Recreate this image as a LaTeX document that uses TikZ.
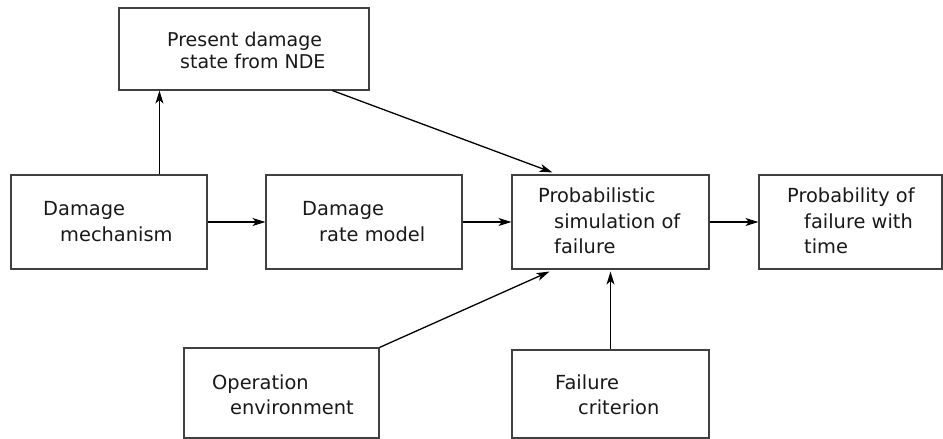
\documentclass[tikz,border=0pt]{standalone}
\usepackage{fontspec}
\setmainfont{DejaVu Sans}
\usetikzlibrary{arrows.meta}
\begin{document}
\begin{tikzpicture}[x=1pt,y=-1pt,
  box/.style={draw=black!75, line width=1.1pt, rectangle, inner sep=0pt},
  txt/.style={anchor=base west, inner sep=0pt, font=\fontsize{19.4}{23}\selectfont, text=black!90},
  txtsmall/.style={txt, font=\fontsize{19}{22}\selectfont},
  arr/.style={line width=1.3pt, -{Stealth[length=13pt,width=8pt,inset=3.5pt]}}]
\useasboundingbox (0,0) rectangle (943,439);
\fill[white] (0,0) rectangle (943,439);
% boxes
\node[box, minimum width=250pt, minimum height=82pt] (pres) at (244,49) {};
\node[box, minimum width=196pt, minimum height=94pt] (mech) at (109,222) {};
\node[box, minimum width=196pt, minimum height=94pt] (rate) at (364,222) {};
\node[box, minimum width=197pt, minimum height=94pt] (sim) at (610.5,222) {};
\node[box, minimum width=183pt, minimum height=94pt] (prob) at (850.5,222) {};
\node[box, minimum width=195pt, minimum height=90pt] (oper) at (281.5,393) {};
\node[box, minimum width=197pt, minimum height=88pt] (crit) at (610.5,394) {};
% texts
\node[txtsmall] (pres1) at (167,46) {Present damage};
\node[txtsmall] (pres2) at (180,68) {state from NDE};
\node[txt] (mech1) at (43,215) {Damage};
\node[txt] (mech2) at (60,241) {mechanism};
\node[txt] (rate1) at (302,215) {Damage};
\node[txt] (rate2) at (319,241) {rate model};
\node[txt] (sim1) at (538,202) {Probabilistic};
\node[txt] (sim2) at (554,228) {simulation of};
\node[txt] (sim3) at (554,253) {failure};
\node[txt] (prob1) at (787,202) {Probability of};
\node[txt] (prob2) at (804,228) {failure with};
\node[txt] (prob3) at (804,253) {time};
\node[txt] (oper1) at (212,389) {Operation};
\node[txt] (oper2) at (230,414) {environment};
\node[txt] (crit1) at (555,389) {Failure};
\node[txt] (crit2) at (578,414) {criterion};
% connectors
\draw[arr] ([xshift=149pt]mech.north west) -- ([xshift=41pt]pres.south west);
\draw[arr] ([xshift=214pt]pres.south west) -- ([xshift=41pt,yshift=2pt]sim.north west);
\draw[arr] (mech.east) -- (rate.west);
\draw[arr] (rate.east) -- (sim.west);
\draw[arr] (sim.east) -- (prob.west);
\draw[arr] (oper.north east) -- ([xshift=38pt,yshift=-2pt]sim.south west);
\draw[arr] (crit.north) -- ([yshift=-2pt]sim.south);
\end{tikzpicture}
\end{document}
